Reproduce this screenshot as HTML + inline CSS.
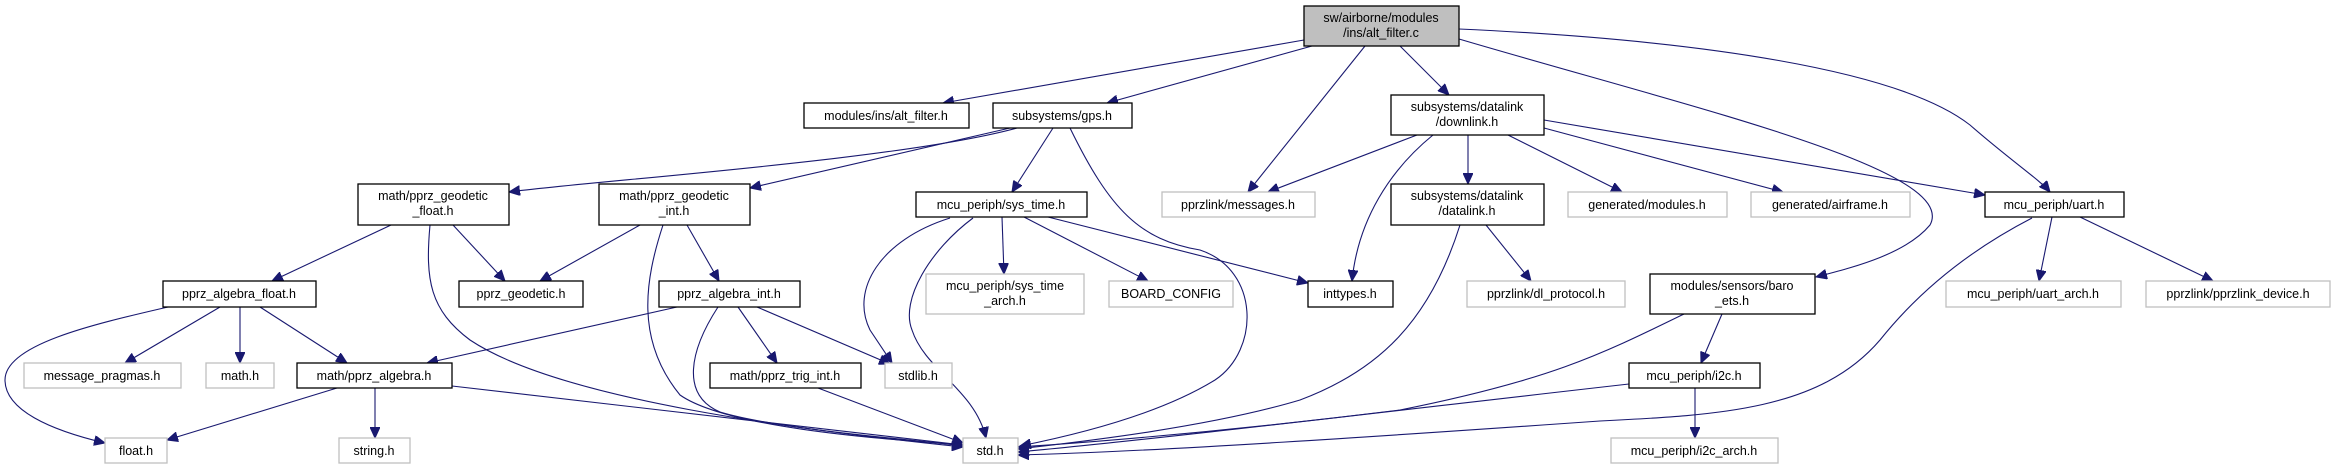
<!DOCTYPE html>
<html><head><meta charset="utf-8"><style>
html,body{margin:0;padding:0;background:#fff;}
svg{display:block;}
text{font-family:"Liberation Sans",sans-serif;font-size:12.5px;fill:#000;text-anchor:middle;}
.b{fill:#fff;stroke:#000;stroke-width:1.3;}
.g{fill:#fff;stroke:#bfbfbf;stroke-width:1.3;}
.e{fill:none;stroke:#191970;stroke-width:1.1;marker-end:url(#a);}
</style></head><body>
<svg width="2335" height="469" viewBox="0 0 2335 469" xmlns="http://www.w3.org/2000/svg">
<defs><marker id="a" markerUnits="userSpaceOnUse" markerWidth="12" markerHeight="10" refX="11" refY="5" orient="auto"><path d="M0,0 L11,5 L0,10 z" fill="#191970" stroke="#191970"/></marker></defs>

<!-- edges -->
<path class="e" d="M1304,40 L943,103"/>
<path class="e" d="M1312,46 L1107,103"/>
<path class="e" d="M1365,46 L1248,192"/>
<path class="e" d="M1400,46 L1449,95"/>
<path class="e" d="M1459,29 C1700,40 1900,70 1970,125 C2010,160 2040,180 2050,192"/>
<path class="e" d="M1459,39 C1700,110 1960,170 1930,225 C1905,255 1850,268 1816,277"/>

<path class="e" d="M1017,128 C900,160 600,180 509,192"/>
<path class="e" d="M1010,128 L750,188"/>
<path class="e" d="M1053,128 L1012,192"/>
<path class="e" d="M1070,128 C1110,210 1140,240 1200,250 C1260,270 1260,350 1215,380 C1150,420 1050,440 1020,446"/>

<path class="e" d="M1417,135 L1268,192"/>
<path class="e" d="M1433,135 C1390,170 1358,220 1352,281"/>
<path class="e" d="M1468,135 L1468,184"/>
<path class="e" d="M1508,135 L1622,192"/>
<path class="e" d="M1544,128 L1783,192"/>
<path class="e" d="M1544,120 L1985,195"/>

<path class="e" d="M1002,217 L1004,274"/>
<path class="e" d="M1024,217 L1148,281"/>
<path class="e" d="M1048,217 L1308,283"/>
<path class="e" d="M950,218 C880,240 850,290 870,330 L892,363"/>
<path class="e" d="M973,218 C930,250 900,300 912,330 C925,370 975,390 986,438"/>

<path class="e" d="M1486,225 L1531,281"/>
<path class="e" d="M1460,225 C1430,320 1380,370 1300,400 C1200,430 1050,445 1018,449"/>

<path class="e" d="M2052,217 L2039,281"/>
<path class="e" d="M2080,217 L2213,281"/>
<path class="e" d="M2032,218 C1970,250 1920,290 1880,340 C1820,410 1720,415 1600,421 C1400,435 1150,452 1018,455"/>

<path class="e" d="M1722,314 L1701,363"/>
<path class="e" d="M1684,314 C1600,355 1550,380 1400,410 C1200,435 1050,445 1018,447"/>
<path class="e" d="M1695,388 L1695,438"/>
<path class="e" d="M1629,384 C1400,410 1150,440 1018,452"/>

<path class="e" d="M391,225 L272,281"/>
<path class="e" d="M453,225 L505,281"/>
<path class="e" d="M430,225 C425,280 430,310 470,340 C560,400 800,430 963,447"/>
<path class="e" d="M640,225 L540,281"/>
<path class="e" d="M687,225 L719,281"/>
<path class="e" d="M663,225 C645,280 635,340 680,395 C730,430 900,440 963,445"/>

<path class="e" d="M168,307 C90,325 5,345 5,380 C5,410 50,430 105,443"/>
<path class="e" d="M220,307 L125,363"/>
<path class="e" d="M240,307 L240,363"/>
<path class="e" d="M260,307 L347,363"/>

<path class="e" d="M677,307 L427,363"/>
<path class="e" d="M718,307 C690,350 680,395 720,412 C780,430 920,440 963,446"/>
<path class="e" d="M738,307 L777,363"/>
<path class="e" d="M757,307 L890,364"/>

<path class="e" d="M337,388 L167,440"/>
<path class="e" d="M375,388 L375,438"/>
<path class="e" d="M452,386 L963,445"/>
<path class="e" d="M818,388 L963,443"/>

<!-- nodes -->
<rect x="1304" y="6" width="155" height="40" fill="#bfbfbf" stroke="#000" stroke-width="1.3"/>
<text x="1381" y="22">sw/airborne/modules</text><text x="1381" y="37">/ins/alt_filter.c</text>

<rect class="b" x="804" y="103" width="165" height="25"/><text x="886" y="120">modules/ins/alt_filter.h</text>
<rect class="b" x="993" y="103" width="139" height="25"/><text x="1062" y="120">subsystems/gps.h</text>
<rect class="b" x="1391" y="95" width="153" height="40"/><text x="1467" y="111">subsystems/datalink</text><text x="1467" y="126">/downlink.h</text>

<rect class="b" x="358" y="184" width="151" height="41"/><text x="433" y="200">math/pprz_geodetic</text><text x="433" y="215">_float.h</text>
<rect class="b" x="599" y="184" width="151" height="41"/><text x="674" y="200">math/pprz_geodetic</text><text x="674" y="215">_int.h</text>
<rect class="b" x="916" y="192" width="171" height="25"/><text x="1001" y="209">mcu_periph/sys_time.h</text>
<rect class="g" x="1162" y="192" width="153" height="25"/><text x="1238" y="209">pprzlink/messages.h</text>
<rect class="b" x="1391" y="184" width="153" height="41"/><text x="1467" y="200">subsystems/datalink</text><text x="1467" y="215">/datalink.h</text>
<rect class="g" x="1568" y="192" width="159" height="25"/><text x="1647" y="209">generated/modules.h</text>
<rect class="g" x="1751" y="192" width="159" height="25"/><text x="1830" y="209">generated/airframe.h</text>
<rect class="b" x="1985" y="192" width="139" height="25"/><text x="2054" y="209">mcu_periph/uart.h</text>

<rect class="b" x="163" y="281" width="153" height="26"/><text x="239" y="298">pprz_algebra_float.h</text>
<rect class="b" x="459" y="281" width="124" height="26"/><text x="521" y="298">pprz_geodetic.h</text>
<rect class="b" x="659" y="281" width="141" height="26"/><text x="729" y="298">pprz_algebra_int.h</text>
<rect class="g" x="926" y="274" width="158" height="40"/><text x="1005" y="290">mcu_periph/sys_time</text><text x="1005" y="305">_arch.h</text>
<rect class="g" x="1109" y="281" width="124" height="26"/><text x="1171" y="298">BOARD_CONFIG</text>
<rect class="b" x="1308" y="281" width="85" height="26"/><text x="1350" y="298">inttypes.h</text>
<rect class="g" x="1467" y="281" width="158" height="26"/><text x="1546" y="298">pprzlink/dl_protocol.h</text>
<rect class="b" x="1650" y="274" width="165" height="40"/><text x="1732" y="290">modules/sensors/baro</text><text x="1732" y="305">_ets.h</text>
<rect class="g" x="1946" y="281" width="175" height="26"/><text x="2033" y="298">mcu_periph/uart_arch.h</text>
<rect class="g" x="2146" y="281" width="184" height="26"/><text x="2238" y="298">pprzlink/pprzlink_device.h</text>

<rect class="g" x="24" y="363" width="157" height="25"/><text x="102" y="380">message_pragmas.h</text>
<rect class="g" x="206" y="363" width="68" height="25"/><text x="240" y="380">math.h</text>
<rect class="b" x="297" y="363" width="155" height="25"/><text x="374" y="380">math/pprz_algebra.h</text>
<rect class="b" x="710" y="363" width="151" height="25"/><text x="785" y="380">math/pprz_trig_int.h</text>
<rect class="g" x="885" y="363" width="67" height="25"/><text x="918" y="380">stdlib.h</text>
<rect class="b" x="1629" y="363" width="131" height="25"/><text x="1694" y="380">mcu_periph/i2c.h</text>

<rect class="g" x="105" y="438" width="62" height="25"/><text x="136" y="455">float.h</text>
<rect class="g" x="339" y="438" width="71" height="25"/><text x="374" y="455">string.h</text>
<rect class="g" x="963" y="438" width="55" height="25"/><text x="990" y="455">std.h</text>
<rect class="g" x="1611" y="438" width="167" height="25"/><text x="1694" y="455">mcu_periph/i2c_arch.h</text>
</svg>
</body></html>
